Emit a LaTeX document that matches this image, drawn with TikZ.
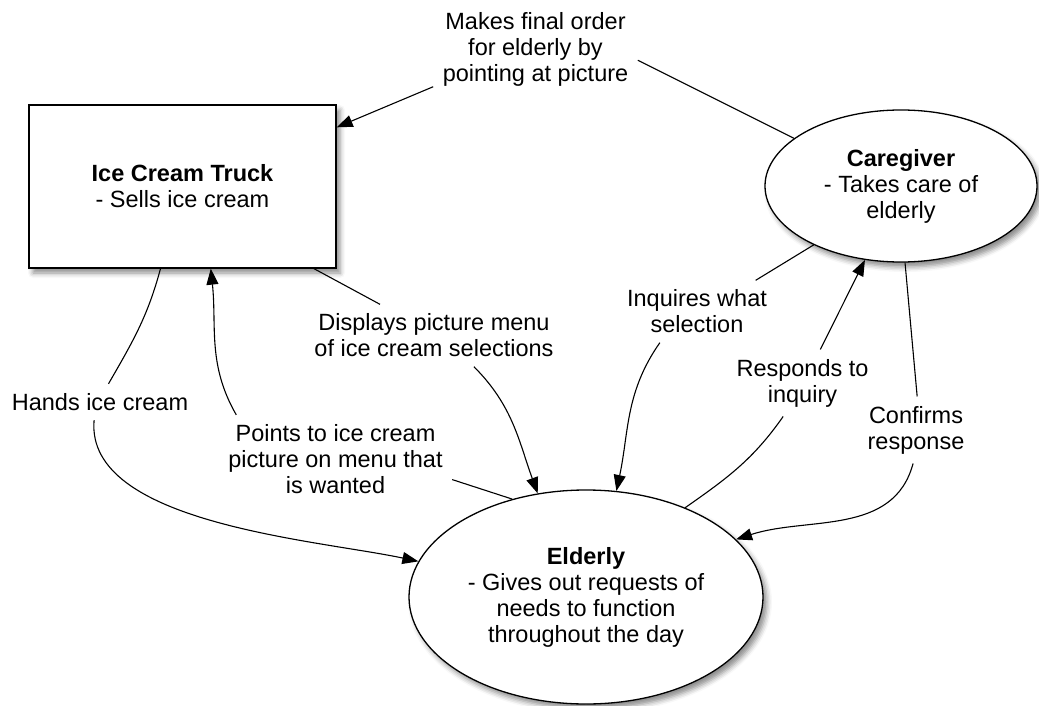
\documentclass[tikz,border=0pt]{standalone}
\usepackage{fontspec}
\setmainfont{Liberation Sans}
\usepackage{xcolor}
\usetikzlibrary{arrows.meta,shapes,shadows,shadows.blur,positioning,calc}
\tikzset{
        actor/.style={align=center, inner sep=0pt, draw=black, fill=white, line width=1.3pt,
            font=\fontsize{23.5}{26}\selectfont,
            blur shadow={shadow xshift=4pt, shadow yshift=-5pt, shadow blur radius=5pt, shadow opacity=45}},
        % Rectangle nodes
        node_box/.style={actor, rectangle, minimum width=307pt, minimum height=163pt},
        % Ellipse nodes
        node_ellipse/.style={actor, ellipse},
        % Edge labels
        node_label/.style={align=center, inner sep=9pt, font=\fontsize{23.5}{26}\selectfont}
}
\begin{document}
\begin{tikzpicture}[x=1pt, y=1pt, line width=1.1pt, >={Triangle[length=16pt, width=12pt]}]
    \useasboundingbox (0,0) rectangle (1039,-706);
    % Actors
    \node[node_box] (truck) at (182.5,-186.5) {\textbf{Ice Cream Truck}\\- Sells ice cream};
    \node[node_ellipse, minimum width=272pt, minimum height=152pt] (care) at (901,-186) {\textbf{Caregiver}\\- Takes care of\\elderly};
    \node[node_ellipse, minimum width=354pt, minimum height=214pt] (elderly) at (586,-597) {\textbf{Elderly}\\- Gives out requests of\\needs to function\\throughout the day};
    % Labels
    \node[node_label] (makes) at (535.5,-49.5) {Makes final order\\for elderly by\\pointing at picture};
    \node[node_label] (displays) at (434,-335.5) {Displays picture menu\\of ice cream selections};
    \node[node_label] (hands) at (100,-402) {Hands ice cream};
    \node[node_label] (points) at (335.5,-459) {Points to ice cream\\picture on menu that\\is wanted};
    \node[node_label] (inquires) at (697,-311.5) {Inquires what\\selection};
    \node[node_label] (responds) at (802.5,-383) {Responds to\\inquiry};
    \node[node_label] (confirms) at (916,-430) {Confirms\\response};
    % Connectors
    \draw (care.156) -- (makes.-6);
    \draw[->] (makes.200) -- (truck.21);
    \draw (truck.-32) -- (displays.150);
    \draw[->] (displays.-38) to[out=-45, in=110] (elderly.115);
    \draw (truck.-105) to[out=-105, in=60] (hands.65);
    \draw[->] (hands.-108) to[out=-95, in=168, looseness=0.75] (elderly.168);
    \draw (elderly.127) -- (points.-10);
    \draw[->] (points.156) to[out=120, in=-84] (truck.-71);
    \draw (care.214) -- (inquires.28);
    \draw[->] (inquires.-140) to[out=-125, in=78] (elderly.74);
    \draw (elderly.42) to[out=35, in=-125] (responds.-120);
    \draw[->] (responds.62) -- (care.-116);
    \draw (care.-87) -- (confirms.88);
    \draw[->] (confirms.-95) to[out=-105, in=18] (elderly.21);
\end{tikzpicture}
\end{document}
